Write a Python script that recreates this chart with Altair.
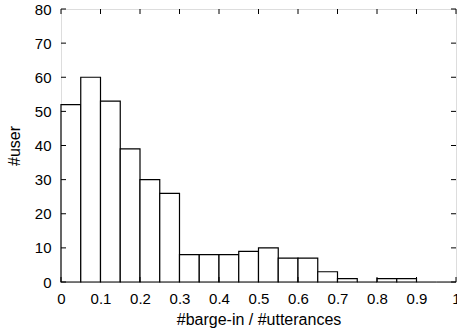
import altair as alt
import pandas as pd

bin_start = [0.00, 0.05, 0.10, 0.15, 0.20, 0.25, 0.30, 0.35, 0.40, 0.45,
             0.50, 0.55, 0.60, 0.65, 0.70, 0.75, 0.80, 0.85, 0.90, 0.95]
counts = [52, 60, 53, 39, 30, 26, 8, 8, 8, 9, 10, 7, 7, 3, 1, 0, 1, 1, 0, 0]
x_ticks = [0, 0.1, 0.2, 0.3, 0.4, 0.5, 0.6, 0.7, 0.8, 0.9, 1.0]
y_ticks = [0, 10, 20, 30, 40, 50, 60, 70, 80]

W, H = 395, 273
FONT = "Liberation Sans"
FS = 15
TFS = 16
TL = 5

df = pd.DataFrame({"x0": bin_start, "x1": [b + 0.05 for b in bin_start], "n": counts})
dfx = pd.DataFrame({"t": x_ticks})
dfy = pd.DataFrame({"t": y_ticks})

xs = alt.Scale(domain=[0, 1], nice=False, zero=False)
ys = alt.Scale(domain=[0, 80], nice=False)

xaxis = alt.Axis(
    values=x_ticks, title="#barge-in / #utterances", tickSize=0, domain=False,
    grid=False, labelPadding=9, labelFontSize=FS, labelFont=FONT, labelColor="black",
    labelOverlap=False, labelFlush=False, format="~g",
    titleFont=FONT, titleFontSize=TFS, titleFontWeight="normal", titleColor="black",
    titlePadding=5)
yaxis = alt.Axis(
    values=y_ticks, title="#user", tickSize=0, domain=False, grid=False,
    labelPadding=10, labelFontSize=FS, labelFont=FONT, labelColor="black",
    labelOverlap=False,
    titleFont=FONT, titleFontSize=TFS, titleFontWeight="normal", titleColor="black",
    titlePadding=12)

bars = alt.Chart(df).mark_rect(fill="white", stroke="black", strokeWidth=1.2).encode(
    x=alt.X("x0:Q", scale=xs, axis=xaxis),
    x2="x1:Q",
    y=alt.Y("n:Q", scale=ys, axis=yaxis),
    y2=alt.datum(0),
)

tick_style = dict(color="black", strokeWidth=1)
xb = alt.Chart(dfx).mark_rule(**tick_style).encode(
    x=alt.X("t:Q", scale=xs, axis=xaxis), y=alt.value(H - TL), y2=alt.value(H))
xt = alt.Chart(dfx).mark_rule(**tick_style).encode(
    x=alt.X("t:Q", scale=xs, axis=xaxis), y=alt.value(0), y2=alt.value(TL))
yl = alt.Chart(dfy).mark_rule(**tick_style).encode(
    y=alt.Y("t:Q", scale=ys, axis=yaxis), x=alt.value(0), x2=alt.value(TL))
yr = alt.Chart(dfy).mark_rule(**tick_style).encode(
    y=alt.Y("t:Q", scale=ys, axis=yaxis), x=alt.value(W - TL), x2=alt.value(W))

chart = alt.layer(bars, xb, xt, yl, yr).properties(
    width=W, height=H,
    autosize=alt.AutoSizeParams(type="none"),
    padding={"left": 61, "top": 9, "right": 1, "bottom": 51},
).configure_view(stroke="black", strokeWidth=1.2).configure(background="white")

chart.save("out.html", embed_options={"renderer": "svg", "actions": False})
